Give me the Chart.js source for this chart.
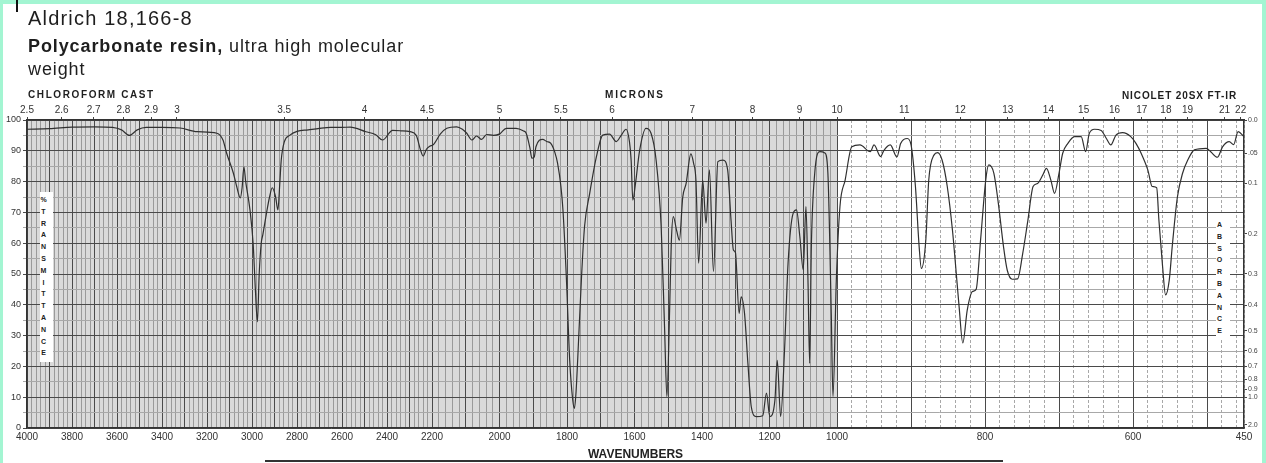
<!DOCTYPE html>
<html>
<head>
<meta charset="utf-8">
<script src="https://cdn.jsdelivr.net/npm/chart.js@4.4.1/dist/chart.umd.min.js"></script>
<style>
body { margin: 0; background: #a3f5d2; font-family: "Liberation Sans", Arial, sans-serif; }
#page { position: absolute; left: 3px; top: 4px; width: 1259px; height: 459px; background: #fff; }
#box { position: absolute; left: 0; top: 0; width: 1266px; height: 463px; }
.t { position: absolute; color: #1e1e1e; white-space: nowrap; line-height: 1; }
.stack { position: absolute; background: #fff; color: #222; font-weight: bold; font-size: 7px;
         writing-mode: vertical-lr; text-orientation: upright; letter-spacing: 4.8px; text-align: center; }
</style>
</head>
<body>
<div id="page"></div>
<div id="box"><canvas id="mycanvas" width="1266" height="463"></canvas></div>

<div class="t" style="left:16px;top:0;width:2px;height:12px;background:#111"></div>
<div class="t" style="left:28px;top:8px;font-size:20px;letter-spacing:1.2px">Aldrich 18,166-8</div>
<div class="t" style="left:28px;top:37px;font-size:18px;letter-spacing:0.9px"><b>Polycarbonate resin,</b> ultra high molecular</div>
<div class="t" style="left:28px;top:60px;font-size:18px;letter-spacing:0.9px">weight</div>
<div class="t" style="left:28px;top:90px;font-size:10px;font-weight:bold;letter-spacing:1.6px">CHLOROFORM CAST</div>
<div class="t" style="left:605px;top:90px;font-size:10px;font-weight:bold;letter-spacing:1.8px">MICRONS</div>
<div class="t" style="left:1122px;top:91px;font-size:10px;font-weight:bold;letter-spacing:0.9px">NICOLET 20SX FT-IR</div>
<div class="stack" style="left:40px;top:192px;width:13px;height:166px;padding-top:4px">%TRANSMITTANCE</div>
<div class="stack" style="left:1216px;top:214px;width:14px;height:120px;padding-top:6px">ABSORBANCE</div>
<div class="t" style="left:265px;top:460px;width:738px;height:2px;background:#333"></div>

<script>
// spectrum (wavenumber cm-1, %T)
var wn = [4000, 3900, 3800, 3700, 3620, 3580, 3545, 3510, 3470, 3400, 3320, 3244, 3156, 3129, 3113,
  3083, 3068, 3052, 3044, 3036, 3028, 3009, 2995, 2985, 2976, 2968, 2959, 2952, 2935, 2922, 2910,
  2895, 2885, 2876, 2870, 2856, 2833, 2800, 2750, 2700, 2650, 2600, 2564, 2494, 2450, 2420, 2375,
  2340, 2298, 2270, 2250, 2239, 2225, 2210, 2196, 2175, 2156, 2127, 2110, 2097, 2082, 2068, 2053,
  2038, 2018, 1999, 1980, 1951, 1930, 1921, 1910, 1904, 1897, 1892, 1872, 1860, 1848, 1836, 1828,
  1818, 1812, 1802, 1792, 1783, 1778, 1773, 1768, 1757, 1748, 1733, 1713, 1694, 1674, 1654, 1640,
  1625, 1615, 1610, 1605, 1597, 1585, 1566, 1551, 1536, 1521, 1511, 1504, 1496, 1491, 1485, 1475,
  1467, 1457, 1447, 1433, 1425, 1418, 1410, 1398, 1388, 1378, 1366, 1353, 1338, 1324, 1314, 1307,
  1301, 1290, 1284, 1274, 1264, 1254, 1239, 1220, 1209, 1199, 1184, 1177, 1167, 1155, 1145, 1130,
  1120, 1110, 1100, 1092, 1086, 1081, 1076, 1066, 1051, 1036, 1027, 1017, 1012, 1002, 996, 989,
  980, 969, 955, 950, 941, 937, 928, 919, 914, 905, 900, 894, 889, 886, 880, 876, 869, 864, 858,
  851, 844, 840, 835, 830, 824, 817, 812, 806, 799, 795, 788, 782, 775, 770, 763, 756, 749, 742,
  735, 729, 722, 717, 711, 706, 700, 695, 688, 679, 670, 664, 659, 652, 643, 636, 630, 623, 614,
  603, 596, 589, 580, 574, 568, 565, 560, 556, 551, 547, 540, 533, 526, 517, 501, 495, 486, 479,
  470, 464, 458, 450];
var trans = [97, 97.2, 97.7, 97.8, 97.6, 96.8, 95, 96.8, 97.6, 97.6, 97.4, 96.2, 95.7, 93.5, 89.3,
  82.8, 78.4, 74.7, 78, 84.8, 80, 70.8, 60, 45, 34.5, 50, 60, 62.7, 70, 75, 78,
  75, 70.8, 80, 87, 93, 95, 96.3, 96.8, 97.3, 97.6, 97.6, 97.7, 96.2, 95.2, 93.5, 96.6,
  96.5, 96.2, 95, 90, 88.3, 90.5, 91.5, 92, 95.5, 97.3, 97.8, 97, 95.7, 93.5, 94.8, 93.7,
  95.3, 95, 95.5, 97.3, 97.3, 96.5, 95.7, 91, 87.6, 88, 91.3, 93.7, 93, 92.4, 89.5, 86,
  78.4, 70.8, 49.1, 22, 9.1, 6.4, 12, 23, 49, 65.4, 76, 88, 95.1, 95.4, 93, 94.9,
  97, 93, 87, 74, 79.4, 90, 97.3, 95.7, 87, 65.4, 32.9, 10.2, 38, 60, 68.6, 64,
  61, 75, 79.4, 89, 86, 80.5, 53.5, 80.5, 66.5, 83.8, 50.8, 86.5, 87, 83.8, 67.5, 57.8,
  57, 37.2, 42.6, 37.2, 21, 6.9, 3.7, 4, 11.3, 3.7, 9, 22, 3.7, 26.4, 53.5, 69.7,
  70.8, 62, 51.3, 71.9, 48, 21, 58.9, 82.7, 89.7, 89.3, 82.7, 37.2, 10.2, 48, 71.9, 80.5,
  91.3, 91.9, 89.7, 91.9, 88.1, 90, 91.9, 88, 92.4, 94, 92, 78.4, 58.9, 51.8, 61, 80.5, 88.6, 89.4, 87,
  78.4, 64.3, 53.5, 39.4, 27.6, 38.3, 44.3, 45, 61, 80.5, 85.4, 82.7, 73, 58.9, 51.3, 48.3, 48.4, 56.7, 67.5,
  78.4, 79.4, 82.1, 84.3, 80.5, 76.2, 82.7, 89.2, 92.4, 94.6, 94.6, 89.7, 95.7, 97, 96.6, 94, 91.9, 95.1, 95.9,
  94.6, 92.4, 89.2, 83.8, 78.4, 78, 67.5, 52.4, 43.2, 48, 58.9, 75, 82.7, 87, 90.3, 90.8, 89.7, 87.9, 91.3,
  93, 92, 96.2, 94.6];

var xTickLabels = [4000, 3800, 3600, 3400, 3200, 3000, 2800, 2600, 2400, 2200, 2000, 1800, 1600,
  1400, 1200, 1000, 800, 600, 450];
var micronLabels = [2.5, 2.6, 2.7, 2.8, 2.9, 3, 3.5, 4, 4.5, 5, 5.5, 6, 7, 8, 9, 10, 11, 12, 13,
  14, 15, 16, 17, 18, 19, 21, 22];
var absValues = [0, 0.05, 0.1, 0.2, 0.3, 0.4, 0.5, 0.6, 0.7, 0.8, 0.9, 1.0, 2.0];
var absLabels = ['0.0', '.05', '0.1', '0.2', '0.3', '0.4', '0.5', '0.6', '0.7', '0.8', '0.9', '1.0', '2.0'];

// the paper changes scale at 2200 and at 1000 cm-1
function pos(w) {
    if (w >= 2200) return (4000 - w) * 0.225;
    if (w >= 1000) return 405 + (2200 - w) * 0.3375;
    return 810 + (1000 - w) * 0.74;
}

var gridWn = [];
for (var w = 4000; w > 450; w -= 20) gridWn.push(w);
gridWn.push(450);

var shade = {
    id: 'shade',
    beforeDraw: function(c) {
        var a = c.chartArea, ctx = c.ctx;
        var xr = c.scales.x.getPixelForValue(pos(1000));
        ctx.save();
        ctx.fillStyle = '#dadada';
        ctx.fillRect(a.left, a.top, xr - a.left, a.bottom - a.top);
        ctx.restore();
    }
};

var points = [];
for (var i in wn) {
    points.push({ x: pos(wn[i]), y: trans[i] });
}

Chart.defaults.font.family = '"Liberation Sans", Arial, sans-serif';

var ctx = document.getElementById('mycanvas');
var IrChart = new Chart(ctx, {
    type: 'line',
    data: {
        datasets: [{
            data: points,
            xAxisID: 'x',
            yAxisID: 'y',
            borderColor: '#303030',
            borderWidth: 1.2,
            pointRadius: 0,
            cubicInterpolationMode: 'monotone',
            fill: false
        }]
    },
    options: {
        responsive: false,
        animation: false,
        devicePixelRatio: 1,
        layout: { padding: 0 },
        plugins: { legend: { display: false }, tooltip: { enabled: false } },
        scales: {
            x: {
                type: 'linear', position: 'bottom', min: 0, max: pos(450),
                afterBuildTicks: function(s) { s.ticks = gridWn.map(function(w) { return { value: pos(w) }; }); },
                afterFit: function(s) { s.height = 35; },
                ticks: {
                    autoSkip: false, maxRotation: 0, padding: 3, color: '#333', font: { size: 10 },
                    callback: function(v, i) { return xTickLabels.indexOf(gridWn[i]) >= 0 ? String(gridWn[i]) : ''; }
                },
                grid: {
                    drawTicks: false,
                    color: function(c) {
                        var w = gridWn[c.index];
                        if (w % 100 === 0) return '#4a4a4a';
                        return w > 1000 ? '#9a9a9a' : '#a8a8a8';
                    }
                },
                border: {
                    color: '#333', width: 1.5,
                    dash: function(c) {
                        var w = gridWn[c.index];
                        return (w !== undefined && w < 1000 && w % 100 !== 0) ? [3, 2] : [];
                    }
                },
                title: { display: true, text: 'WAVENUMBERS', color: '#222', font: { size: 12, weight: 'bold' }, padding: { top: 0, bottom: 1 } }
            },
            xTop: {
                type: 'linear', position: 'top', min: 0, max: pos(450),
                afterBuildTicks: function(s) { s.ticks = micronLabels.map(function(m) { return { value: pos(10000 / m) }; }); },
                afterFit: function(s) { s.height = 120; },
                ticks: {
                    autoSkip: false, maxRotation: 0, padding: 1, color: '#333', font: { size: 10 },
                    callback: function(v, i) { return String(micronLabels[i]); }
                },
                grid: { drawOnChartArea: false, tickLength: 3, color: '#444' },
                border: { color: '#333', width: 1.5 }
            },
            y: {
                min: 0, max: 100, position: 'left',
                afterFit: function(s) { s.width = 27; },
                ticks: {
                    stepSize: 5, padding: 2, color: '#333', font: { size: 9 },
                    callback: function(v) { return v % 10 === 0 ? v : ''; }
                },
                grid: {
                    tickLength: 4,
                    color: function(c) { return c.tick.value % 10 === 0 ? '#4a4a4a' : '#a8a8a8'; }
                },
                border: { color: '#333', width: 1.5 }
            },
            yA: {
                min: 0, max: 100, position: 'right',
                afterBuildTicks: function(s) { s.ticks = absValues.map(function(a) { return { value: 100 * Math.pow(10, -a) }; }); },
                afterFit: function(s) { s.width = 22; },
                ticks: {
                    autoSkip: false, padding: 1, color: '#444', font: { size: 7 },
                    callback: function(v, i) { return absLabels[i]; }
                },
                grid: { drawOnChartArea: false, tickLength: 3, color: '#444' },
                border: { color: '#333', width: 1.5 }
            }
        }
    },
    plugins: [shade]
});
</script>
</body>
</html>
